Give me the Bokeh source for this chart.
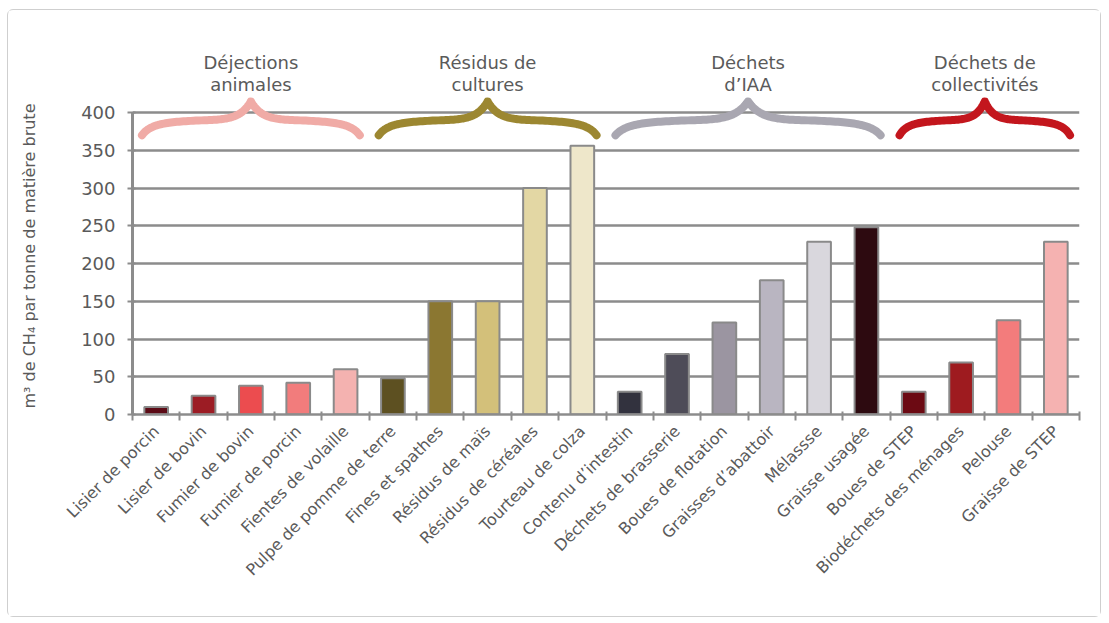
import numpy as np
from bokeh.plotting import figure
from bokeh.layouts import column
from bokeh.models import Range1d, FixedTicker
from bokeh.core.properties import value
from bokeh.embed import file_html
from bokeh.resources import INLINE

# ---------------- data ----------------
categories = [
    "Lisier de porcin", "Lisier de bovin", "Fumier de bovin", "Fumier de porcin",
    "Fientes de volaille", "Pulpe de pomme de terre", "Fines et spathes",
    "Résidus de maïs", "Résidus de céréales", "Tourteau de colza",
    "Contenu d\u2019intestin", "Déchets de brasserie", "Boues de flotation",
    "Graisses d\u2019abattoir", "Mélassse", "Graisse usagée", "Boues de STEP",
    "Biodéchets des ménages", "Pelouse", "Graisse de STEP",
]
values = [10, 25, 38, 42, 60, 48, 150, 150, 300, 356,
          30, 80, 122, 178, 229, 248, 30, 69, 125, 229]
bar_colors = [
    "#5c0b16", "#9c1c24", "#ec4c4f", "#f27c7c", "#f4b2b0",
    "#5d5021", "#8b7731", "#d3c07a", "#e3d7a4", "#eee7ca",
    "#32323e", "#4e4c58", "#9b95a1", "#b9b5c1", "#d9d7dd",
    "#2d0a10", "#6c0a13", "#9e1b1f", "#f37c7c", "#f5b2b1",
]
group_line1 = ["Déjections", "Résidus de", "Déchets", "Déchets de"]
group_line2 = ["animales", "cultures", "d\u2019IAA", "collectivités"]
group_sizes = [5, 5, 6, 4]
group_colors = ["#f0aba6", "#9c8731", "#a9a7b1", "#c3161d"]
y_ticks = [0, 50, 100, 150, 200, 250, 300, 350, 400]
y_label = "m\u00b3 de CH\u2084 par tonne de matière brute"

# ---------------- styling ----------------
GRAY = "#8c8c8c"
TXT = "#5a5a5a"
FONT = "DejaVu Sans"
W = 1092
PX_PER_UNIT = 0.755
Y_TOP = 420          # top of the bar panel (data units)
TOP_H = 87           # height of the header panel (px)
FRAME_H = int(round(Y_TOP * PX_PER_UNIT))
BOTTOM_B = 202

n = len(categories)
xs = list(range(1, n + 1))
bounds = [i + 0.5 for i in range(0, n + 1)]
x_range = Range1d(0.5, n + 0.5)

# ---------------- main (bars) figure ----------------
p = figure(width=W, height=FRAME_H + BOTTOM_B, output_backend="svg",
           toolbar_location=None, x_range=x_range, y_range=Range1d(0, Y_TOP),
           min_border_left=124, min_border_right=21, min_border_top=0,
           min_border_bottom=BOTTOM_B)
p.outline_line_color = None
p.background_fill_color = "white"
p.border_fill_color = "white"

p.xgrid.visible = False
p.ygrid.ticker = FixedTicker(ticks=y_ticks)
p.ygrid.grid_line_color = GRAY
p.ygrid.grid_line_width = 2.5

p.vbar(x=xs, top=values, width=0.5, bottom=0, fill_color=bar_colors,
       line_color="#8a8a8a", line_width=2)

# y axis
p.yaxis.ticker = FixedTicker(ticks=y_ticks)
p.yaxis.bounds = (0, 400)
p.yaxis.axis_line_color = GRAY
p.yaxis.axis_line_width = 3
p.yaxis.major_tick_line_color = GRAY
p.yaxis.major_tick_line_width = 2
p.yaxis.major_tick_in = 3
p.yaxis.major_tick_out = 5
p.yaxis.minor_tick_line_color = None
p.yaxis.major_label_text_font = FONT
p.yaxis.major_label_text_font_size = "18px"
p.yaxis.major_label_text_color = TXT
p.yaxis.major_label_standoff = 12
p.yaxis.axis_label = y_label
p.yaxis.axis_label_text_font = FONT
p.yaxis.axis_label_text_font_size = "16px"
p.yaxis.axis_label_text_font_style = "normal"
p.yaxis.axis_label_text_color = TXT
p.yaxis.axis_label_standoff = 39

# x axis
p.xaxis.ticker = FixedTicker(ticks=xs, minor_ticks=bounds)
p.xaxis.major_label_overrides = {x: c for x, c in zip(xs, categories)}
p.xaxis.major_label_orientation = np.pi / 4
p.xaxis.major_label_text_font = FONT
p.xaxis.major_label_text_font_size = "16px"
p.xaxis.major_label_text_color = TXT
p.xaxis.major_label_standoff = 8
p.xaxis.major_tick_line_color = None
p.xaxis.minor_tick_line_color = GRAY
p.xaxis.minor_tick_line_width = 2
p.xaxis.minor_tick_in = 3
p.xaxis.minor_tick_out = 6
p.xaxis.axis_line_color = GRAY
p.xaxis.axis_line_width = 2.5


# braces
def bez(p0, p1, p2, p3, m=40):
    t = np.linspace(0, 1, m)[:, None]
    return ((1 - t) ** 3 * np.array(p0) + 3 * (1 - t) ** 2 * t * np.array(p1)
            + 3 * (1 - t) * t ** 2 * np.array(p2) + t ** 3 * np.array(p3))


def brace(a, b, yl=370, ym=388, yp=415):
    w = b - a
    c = (a + b) / 2
    s1 = bez([a, yl], [a + 0.04 * w, ym - 2], [a + 0.12 * w, ym], [a + 0.3 * w, ym + 2])
    s2 = bez([a + 0.3 * w, ym + 2], [a + 0.4 * w, ym + 3], [c - 0.04 * w, ym + 6], [c, yp])
    left = np.vstack([s1, s2])
    right = left[::-1].copy()
    right[:, 0] = 2 * c - right[:, 0]
    pts = np.vstack([left, right])
    return pts[:, 0], pts[:, 1]


start = 0.5
centers = []
for size, col in zip(group_sizes, group_colors):
    a, b = start + 0.2, start + size - 0.2
    bx, by = brace(a, b)
    p.line(bx, by, line_color=col, line_width=8, line_cap="round", line_join="round")
    centers.append(start + size / 2)
    start += size

# ---------------- header figure (group titles) ----------------
h = figure(width=W, height=TOP_H, output_backend="svg", toolbar_location=None,
           x_range=x_range, y_range=Range1d(Y_TOP, Y_TOP + TOP_H / PX_PER_UNIT),
           min_border_left=124, min_border_right=21, min_border_top=0,
           min_border_bottom=0, x_axis_location=None, y_axis_location=None)
h.outline_line_color = None
h.grid.visible = False
h.background_fill_color = "white"
h.border_fill_color = "white"

h.text(x=centers, y=[467] * len(centers), text=group_line1, text_align="center",
       text_baseline="middle", text_font=value(FONT), text_font_size="18px",
       text_color=TXT)
h.text(x=centers, y=[437] * len(centers), text=group_line2, text_align="center",
       text_baseline="middle", text_font=value(FONT), text_font_size="18px",
       text_color=TXT)

layout = column(h, p, spacing=0)
layout.styles = {"border": "1px solid #cfcfcf", "border-radius": "6px",
                 "margin-left": "7px", "margin-top": "9px"}

open("out.html", "w").write(file_html(layout, INLINE))
